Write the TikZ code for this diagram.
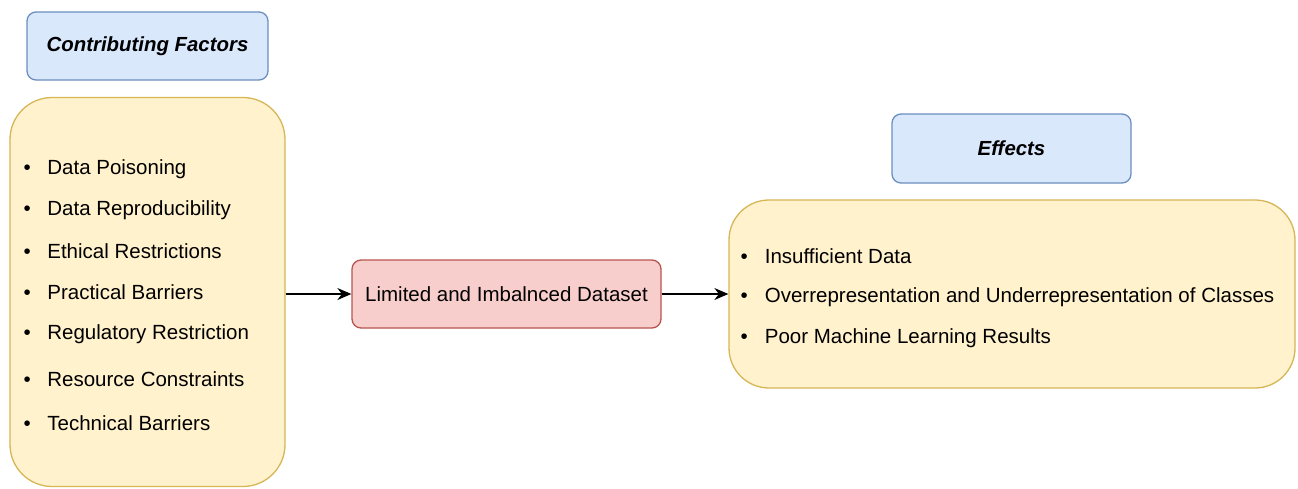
\documentclass[tikz,border=0pt]{standalone}
\usepackage{fontspec}
\setmainfont{Liberation Sans}
\usetikzlibrary{arrows.meta}
\definecolor{bluefill}{HTML}{DAE8FC}
\definecolor{bluedraw}{HTML}{6C8EBF}
\definecolor{yellowfill}{HTML}{FFF2CC}
\definecolor{yellowdraw}{HTML}{D6B656}
\definecolor{redfill}{HTML}{F8CECC}
\definecolor{reddraw}{HTML}{B85450}
\tikzset{
  titlebox/.style={draw=bluedraw, fill=bluefill, rounded corners=9pt, line width=1.3pt,
    font=\fontsize{20.4}{24}\selectfont\bfseries\itshape},
  listbox/.style={draw=yellowdraw, fill=yellowfill, line width=1.3pt},
  item/.style={anchor=west, inner sep=0pt, font=\fontsize{20.5}{24}\selectfont},
  flow/.style={line width=1.4pt, -{Stealth[length=14pt,width=12pt]}}
}
\begin{document}
\begin{tikzpicture}[x=1pt,y=-1pt]
\useasboundingbox (0,0) rectangle (1298,488);
% headings
\node[titlebox, minimum width=241pt, minimum height=68pt] (cf) at (147.5,46) {Contributing Factors};
\node[titlebox, minimum width=239pt, minimum height=69pt] (ef) at (1011.5,148.5) {Effects};
% left list
\node[listbox, rounded corners=42pt, minimum width=275pt, minimum height=389pt] (lf) at (147.5,292) {};
\foreach \y/\txt [count=\i] in {169/Data Poisoning, 210/Data Reproducibility, 251/Ethical Restrictions,
  292/Practical Barriers, 334/Regulatory Restriction, 379/Resource Constraints, 423/Technical Barriers}
  \node[item] (l\i) at (23.5,\y) {\textbullet\hspace{16.5pt}\txt};
% middle
\node[draw=reddraw, fill=redfill, rounded corners=9pt, line width=1.3pt, minimum width=309pt,
  minimum height=68pt, font=\fontsize{20.5}{24}\selectfont] (ds) at (506.5,294) {Limited and Imbalnced Dataset};
% right list
\node[listbox, rounded corners=40pt, minimum width=566pt, minimum height=188pt] (rt) at (1012,294) {};
\foreach \y/\txt [count=\i] in {256/Insufficient Data,
  297/Overrepresentation and Underrepresentation of Classes, 338/Poor Machine Learning Results}
  \node[item] (r\i) at (740.5,\y) {\textbullet\hspace{17pt}\txt};
% connectors
\draw[flow] (lf.east |- ds.west) -- (ds.west);
\draw[flow] (ds.east) -- (rt.west |- ds.east);
\end{tikzpicture}
\end{document}
